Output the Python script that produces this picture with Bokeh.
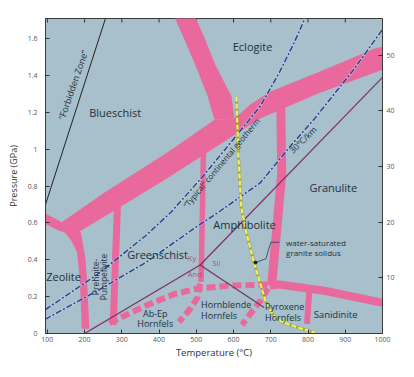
import math
from bokeh.plotting import figure
from bokeh.models import Range1d, LinearAxis, FixedTicker, NumeralTickFormatter
from bokeh.embed import file_html
from bokeh.resources import INLINE
from bokeh.core.properties import value

# ---------------- data (Temperature degC, Pressure GPa) ----------------
x_ticks = [100, 200, 300, 400, 500, 600, 700, 800, 900, 1000]
y_ticks = [0, 0.2, 0.4, 0.6, 0.8, 1.0, 1.2, 1.4, 1.6]
depth_ticks = [10, 20, 30, 40, 50]
gpa_per_km = 0.0302
T_min, T_max = 95, 1000
P_min, P_max = 0, 1.71

forbidden_T = [95, 256]
forbidden_P = [0.70, 1.71]

# main facies boundary band (blueschist / greenschist / amphibolite / eclogite)
main_T = [95, 138.5, 253.8, 423, 548.7, 602.5, 646, 697.4, 825.6, 979.5, 1000,
          1000, 825.6, 671.8, 423, 253.8, 171.8, 133.3, 95]
main_P = [0.651, 0.604, 0.766, 0.984, 1.161, 1.167, 1.245, 1.312, 1.417, 1.547, 1.557,
          1.432, 1.302, 1.167, 0.844, 0.635, 0.536, 0.557, 0.594]

eclogite_T = [441, 467, 497.4, 530.8, 548.7, 602.5, 594.8, 551.3, 523, 497.4]
eclogite_P = [1.72, 1.6, 1.458, 1.286, 1.161, 1.167, 1.286, 1.458, 1.6, 1.72]

zeolite_T = [143.6, 164.1, 179.5, 187.2, 192.3, 212.8, 207.7, 202.6, 194.9, 189.7]
zeolite_P = [0.557, 0.505, 0.443, 0.297, 0.026, 0.026, 0.245, 0.401, 0.495, 0.552]

pp_T = [288.5, 276.9]
pp_P = [0.714, 0.047]

gs_T = [519.2, 512.8]
gs_P = [0.984, 0.281]

gran_T = [726.9, 729.5, 717.9, 703.8, 702.6]
gran_P = [1.224, 0.870, 0.609, 0.297, 0.260]

horiz_T = [697.4, 723, 843.6, 1000]
horiz_P = [0.260, 0.266, 0.232, 0.167]

sanid_T = [803.8, 797.4]
sanid_P = [0.245, 0.052]

hornfels_T = [266.7, 364.1, 441, 505.1, 594.8, 697.4]
hornfels_P = [0.057, 0.151, 0.214, 0.245, 0.260, 0.266]

abep_T = [510.2, 502.6, 482, 453.8]
abep_P = [0.271, 0.193, 0.130, 0.0625]

pyx_T = [692.3, 671.8, 646.1, 623]
pyx_P = [0.245, 0.177, 0.109, 0.047]

# aluminosilicate triple point lines
kysil_T = [510.2, 1000]
kysil_P = [0.372, 1.39]
andky_T = [510.2, 200]
andky_P = [0.372, 0.0]
andsil_T = [510.2, 682]
andsil_P = [0.372, 0.141]

# geotherms
typical_T = [95, 235.9, 364.1, 433.3, 517.9, 594.8, 671.8, 723, 761.5, 792.3]
typical_P = [0.130, 0.323, 0.531, 0.661, 0.854, 1.042, 1.234, 1.417, 1.573, 1.713]
g30_T = [95, 235.9, 364.1, 492.3, 561.5, 671.8, 756.4, 817.9, 920.5, 1000]
g30_P = [0.078, 0.234, 0.385, 0.568, 0.661, 0.818, 1.026, 1.167, 1.427, 1.651]

# water-saturated granite solidus
solidus_T = [607.7, 612.8, 620.5, 633.3, 651.3, 671.8, 689.7, 707.7, 730.8, 774.4, 817.9]
solidus_P = [1.286, 0.974, 0.688, 0.557, 0.411, 0.271, 0.151, 0.099, 0.0625, 0.031, 0.005]

leader_T = [723, 700, 692.3, 687.2, 659]
leader_P = [0.495, 0.495, 0.443, 0.406, 0.385]

# labels
facies_text = ["Eclogite", "Blueschist", "Granulite", "Amphibolite", "Greenschist", "Zeolite"]
facies_T = [651, 282, 868, 629.5, 396, 143.6]
facies_P = [1.557, 1.198, 0.792, 0.594, 0.427, 0.307]

sanid_text = ["Sanidinite"]
sanid_lab_T = [874]
sanid_lab_P = [0.104]

small_text = ["Ab-Ep", "Hornfels"]
small_T = [389.7, 389.7]
small_P = [0.109, 0.052]

left_text = ["Hornblende", "Hornfels", "Pyroxene", "Hornfels"]
left_T = [512.8, 512.8, 684.6, 684.6]
left_P = [0.156, 0.099, 0.146, 0.089]

pp_text = ["Prehnite-", "Pumpellyite"]
pp_lab_T = [229, 252]
pp_lab_P = [0.307, 0.307]

sol_text = ["water-saturated", "granite solidus"]
sol_lab_T = [741, 741]
sol_lab_P = [0.495, 0.438]

als_text = ["Ky", "Sil", "And"]
als_T = [488.5, 553.8, 496]
als_P = [0.411, 0.385, 0.323]

# ---------------- styling ----------------
PINK = "#e9699d"
BG = "#a7c0cb"
TXT = "#22303e"
BLUE = "#2b3a92"
PURP = "#7d2f63"
FONT = value("Open Sans")

p = figure(width=398, height=361, x_range=Range1d(T_min, T_max), y_range=Range1d(P_min, P_max),
           output_backend="svg", toolbar_location=None,
           min_border_left=45, min_border_top=18, min_border_right=16, min_border_bottom=25)
p.background_fill_color = BG
p.border_fill_color = "white"
p.outline_line_color = "#3a3a3a"
p.outline_line_width = 1
p.grid.visible = False

p.extra_y_ranges = {"depth": Range1d(0, P_max / gpa_per_km)}

def style_axis(ax):
    ax.major_tick_in = 4
    ax.major_tick_out = 0
    ax.minor_tick_line_color = None
    ax.major_tick_line_color = "#333333"
    ax.axis_line_color = "#3a3a3a"
    ax.major_label_text_font = "Open Sans"
    ax.major_label_text_font_size = "7px"
    ax.major_label_text_color = "#555555"
    ax.axis_label_text_font = "Open Sans"
    ax.axis_label_text_font_style = "normal"
    ax.axis_label_text_color = "#333333"

xa = p.xaxis[0]
style_axis(xa)
xa.ticker = FixedTicker(ticks=x_ticks)
xa.axis_label = "Temperature (°C)"
xa.axis_label_text_font_size = "9.5px"
xa.major_label_standoff = 3
xa.axis_label_standoff = 1

ya = p.yaxis[0]
style_axis(ya)
ya.ticker = FixedTicker(ticks=y_ticks)
ya.formatter = NumeralTickFormatter(format="0.[0]")
ya.axis_label = "Pressure (GPa)"
ya.axis_label_text_font_size = "9px"
ya.major_label_standoff = 8
ya.axis_label_standoff = 5

right = LinearAxis(y_range_name="depth", ticker=FixedTicker(ticks=depth_ticks))
style_axis(right)
right.major_label_standoff = 4
p.add_layout(right, "right")

# inward ticks along the top edge
p.ray(x=x_ticks, y=[P_max] * len(x_ticks), length=4, length_units="screen",
      angle=-90, angle_units="deg", line_color="#333333", line_width=1)

# pink bands
p.patch(main_T, main_P, fill_color=PINK, line_color=None)
p.patch(eclogite_T, eclogite_P, fill_color=PINK, line_color=None)
p.patch(zeolite_T, zeolite_P, fill_color=PINK, line_color=None)
p.line(pp_T, pp_P, line_color=PINK, line_width=7)
p.line(gs_T, gs_P, line_color=PINK, line_width=5.5)
p.line(gran_T, gran_P, line_color=PINK, line_width=9, line_join="round")
p.line(horiz_T, horiz_P, line_color=PINK, line_width=8, line_join="round")
p.line(sanid_T, sanid_P, line_color=PINK, line_width=6)
for tt, pp in [(hornfels_T, hornfels_P), (abep_T, abep_P), (pyx_T, pyx_P)]:
    p.line(tt, pp, line_color=PINK, line_width=6, line_dash="9 4")

# forbidden zone
p.line(forbidden_T, forbidden_P, line_color="#222222", line_width=1)

# aluminosilicate lines
for tt, pp in [(kysil_T, kysil_P), (andky_T, andky_P), (andsil_T, andsil_P)]:
    p.line(tt, pp, line_color=PURP, line_width=1.2)

# geotherms
for tt, pp in [(typical_T, typical_P), (g30_T, g30_P)]:
    p.line(tt, pp, line_color="#c8d6e8", line_width=2.6, line_alpha=0.5)
    p.line(tt, pp, line_color=BLUE, line_width=1.4, line_dash="6 2 2 2")

# solidus
p.line(solidus_T, solidus_P, line_color="#8a8a30", line_width=3.0, line_alpha=0.6)
p.line(solidus_T, solidus_P, line_color="#f4f24a", line_width=2.2, line_dash="5 2")
p.line(leader_T, leader_P, line_color="#3a4a5a", line_width=0.9)
p.scatter([leader_T[-1]], [leader_P[-1]], size=3, color="#222222")

# labels
p.text(facies_T, facies_P, text=facies_text, text_font=FONT, text_font_size="11px",
       text_color=TXT, text_align="center", text_baseline="middle")
p.text(sanid_lab_T, sanid_lab_P, text=sanid_text, text_font=FONT, text_font_size="9.5px",
       text_color=TXT, text_align="center", text_baseline="middle")
p.text(small_T, small_P, text=small_text, text_font=FONT, text_font_size="9px",
       text_color=TXT, text_align="center", text_baseline="middle")
p.text(left_T, left_P, text=left_text, text_font=FONT, text_font_size="9px",
       text_color=TXT, text_align="left", text_baseline="middle")
p.text(pp_lab_T, pp_lab_P, text=pp_text, text_font=FONT, text_font_size="8.5px",
       text_color=TXT, text_align="center", text_baseline="middle", angle=math.pi / 2)
p.text(sol_lab_T, sol_lab_P, text=sol_text, text_font=FONT, text_font_size="8px",
       text_color=TXT, text_align="left", text_baseline="middle")
p.text(als_T, als_P, text=als_text, text_font=FONT, text_font_size="7.5px",
       text_color="#b0507f", text_align="center", text_baseline="middle")
p.text([169], [1.349], text=["\u201cForbidden Zone\u201d"], text_font=FONT, text_font_size="9px",
       text_color=TXT, text_align="center", text_baseline="middle", angle=math.radians(71))
p.text([566.7], [0.927], text=["\u201cTypical\u201d continental geotherm"], text_font=FONT,
       text_font_size="8px", text_color=TXT, text_align="center", text_baseline="middle",
       angle=math.radians(50))
p.text([786], [1.052], text=["30°C/km"], text_font=FONT, text_font_size="8.5px",
       text_color=TXT, text_align="center", text_baseline="middle", angle=math.radians(44))

open("out.html", "w").write(file_html(p, INLINE))
